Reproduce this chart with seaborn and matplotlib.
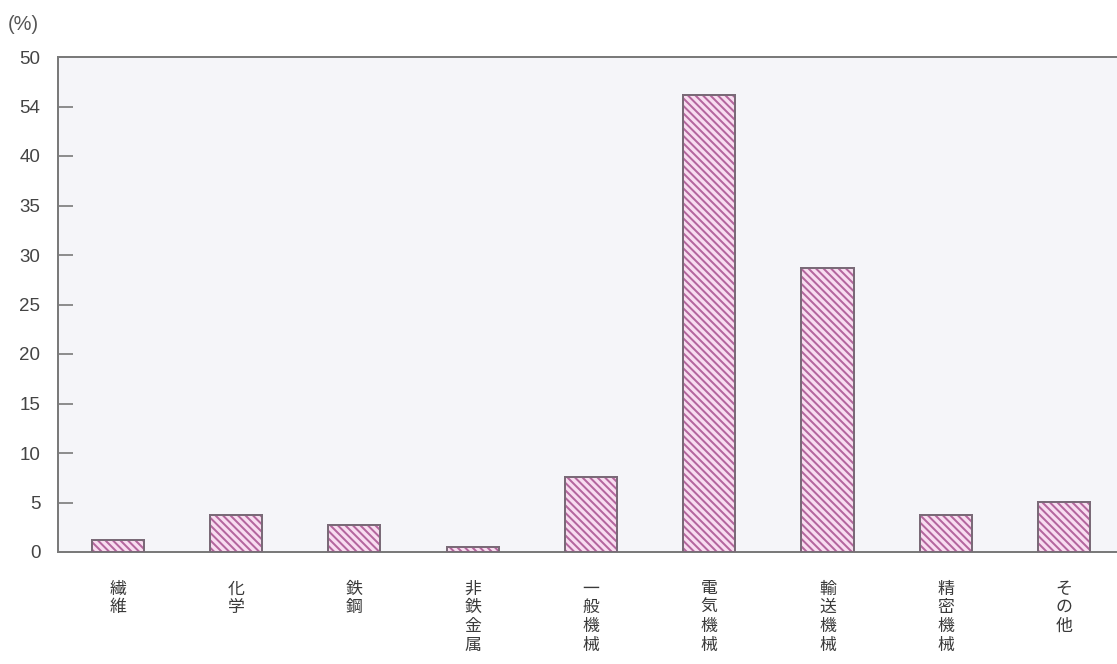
import matplotlib
matplotlib.use("Agg")
import matplotlib.pyplot as plt
import seaborn as sns
import pandas as pd

categories = ["繊維", "化学", "鉄鋼", "非鉄金属", "一般機械", "電気機械", "輸送機械", "精密機械", "その他"]
values = [1.2, 3.7, 2.7, 0.5, 7.6, 46.2, 28.7, 3.7, 5.1]
ytick_values = [0, 5, 10, 15, 20, 25, 30, 35, 40, 45, 50]
ytick_labels = ["0", "5", "10", "15", "20", "25", "30", "35", "40", "54", "50"]
unit_label = "(%)"

sns.set_theme(style="white")
plt.rcParams["font.family"] = ["Liberation Sans", "Noto Sans CJK JP", "DejaVu Sans"]
plt.rcParams["hatch.linewidth"] = 1.6

DPI = 90
fig = plt.figure(figsize=(1117 / DPI, 664 / DPI), dpi=DPI, facecolor="white")
ax = fig.add_axes([58 / 1117, 1 - 552 / 664, 1 - 58 / 1117, (552 - 57) / 664])
ax.set_facecolor("#f5f5f9")

df = pd.DataFrame({"cat": categories, "val": values})

fill_col = "#f8ddf0"
hatch_col = "#b4669e"
edge_col = "#7a6a78"

# hatched fill
sns.barplot(data=df, x="cat", y="val", order=categories, color=fill_col,
            width=0.44, saturation=1, edgecolor=hatch_col, linewidth=0,
            hatch="\\\\\\\\", ax=ax, zorder=2)
# outline
sns.barplot(data=df, x="cat", y="val", order=categories, fill=False,
            width=0.44, edgecolor=edge_col, linewidth=1.6, ax=ax, zorder=3)

ax.set_xlim(-0.507, 8.448)
ax.set_ylim(0, 50)
ax.set_xlabel("")
ax.set_ylabel("")

ax.set_yticks(ytick_values)
ax.set_yticklabels(ytick_labels, fontsize=15, color="#444444")
ax.tick_params(axis="y", direction="in", length=12, width=1.3, color="#777777",
               pad=14, left=True)
ax.set_xticks(range(len(categories)))
ax.set_xticklabels(["\n".join(c) for c in categories], fontsize=13.5, color="#3a3a3a",
                   family=["Noto Sans CJK JP", "DejaVu Sans"], linespacing=1.05,
                   va="top")
ax.tick_params(axis="x", length=0, pad=22)

for side in ["left", "top", "bottom"]:
    ax.spines[side].set_color("#7a7a7a")
    ax.spines[side].set_linewidth(1.6)
ax.spines["right"].set_visible(False)

fig.text(8 / 1117, 1 - 24 / 664, unit_label, fontsize=16, color="#555555",
         va="center", ha="left")

fig.savefig("out.png", dpi=DPI, facecolor="white")
